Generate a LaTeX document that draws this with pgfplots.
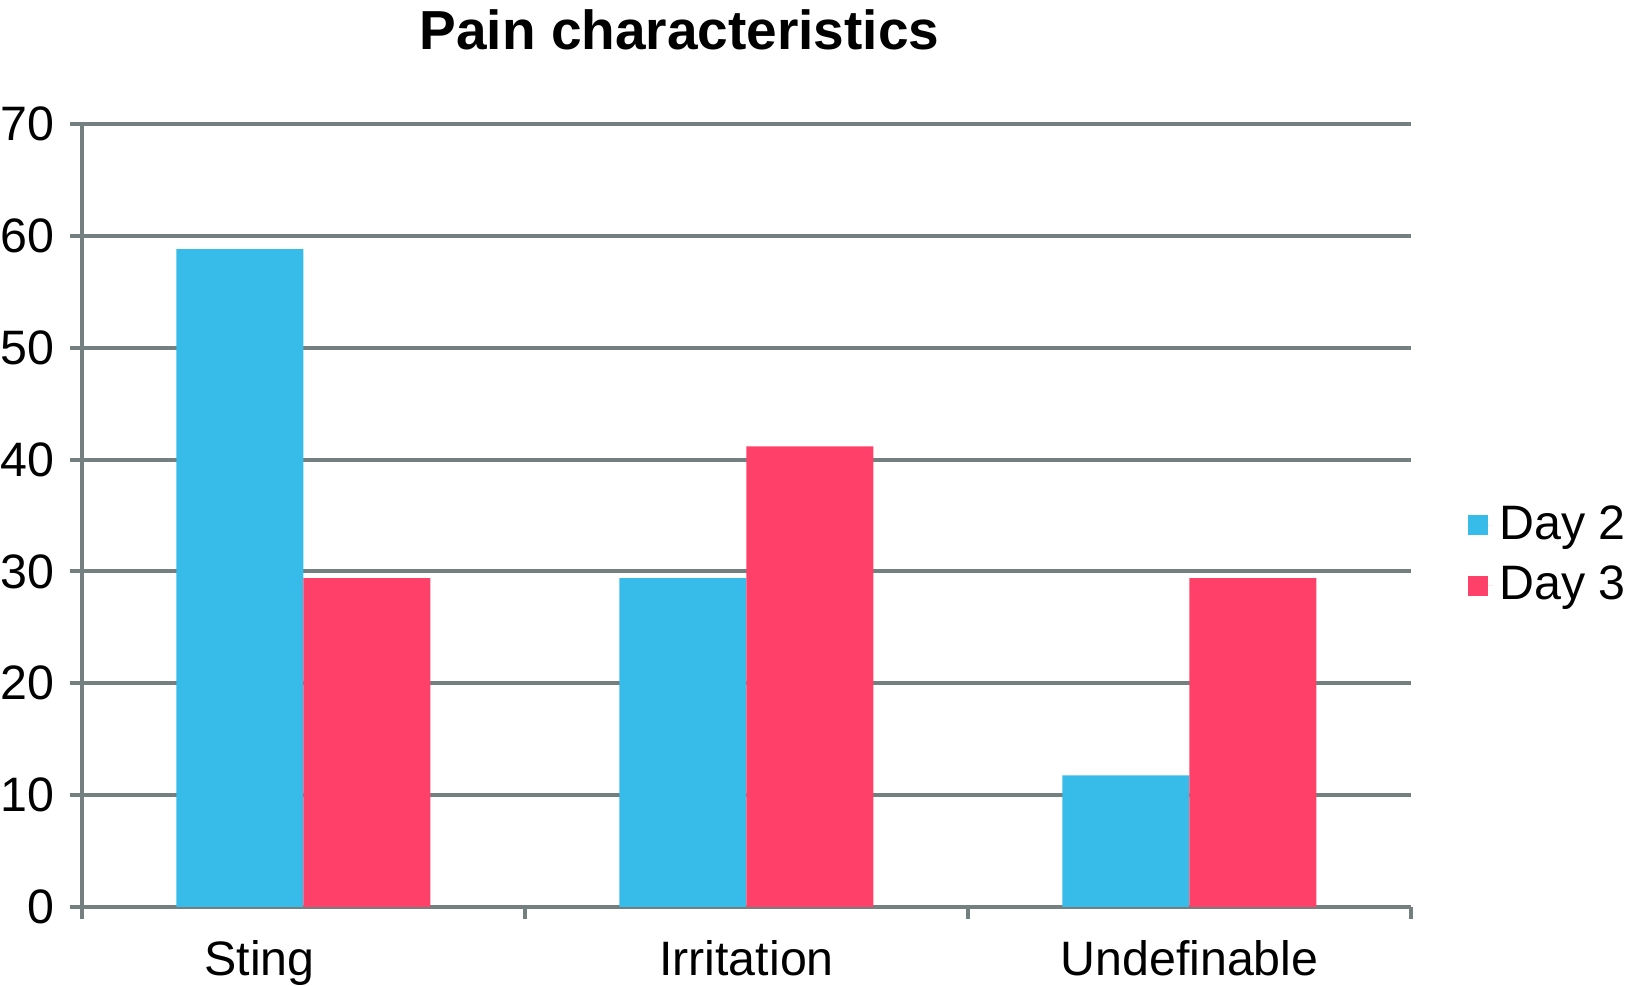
\documentclass[border=0pt]{standalone}
\usepackage{fontspec}
\setmainfont{Liberation Sans}
\usepackage{pgfplots}
\pgfplotsset{compat=1.18}
\definecolor{gridgray}{RGB}{116,128,128}
\definecolor{dayblue}{RGB}{55,187,232}
\definecolor{dayred}{RGB}{255,64,105}
\begin{document}
\begin{tikzpicture}[x=1pt,y=1pt]
\path[use as bounding box] (0,0) rectangle (493.8pt,295.8pt);
\begin{axis}[
  at={(24.6pt,23.7pt)}, anchor=south west,
  scale only axis, width=398.7pt, height=234.9pt,
  xmin=-0.5, xmax=2.5, ymin=0, ymax=70,
  axis lines=left, axis line style={-, gridgray, line width=1pt},
  ytick={0,10,...,70},
  ymajorgrids, major grid style={gridgray, line width=1.2pt},
  tick align=outside, tick style={gridgray, line width=1.2pt},
  major tick length=3.6pt,
  xtick={-0.5,0.5,1.5,2.5}, xticklabels={},
  extra x ticks={0,1,2},
  extra x tick labels={\hspace*{-26.4pt}Sting,Irritation,Undefinable},
  extra x tick style={major tick length=0pt, grid=none, xticklabel style={yshift=-6.6pt}},
  ticklabel style={font=\fontsize{14.5}{17}\selectfont},
  yticklabel style={xshift=-1.2pt},
  /pgf/number format/assume math mode=true,
  ybar, bar width=38.1pt,
  title={\bfseries Pain characteristics},
  title style={at={(0.4496,1)}, anchor=base, yshift=16.2pt, font=\fontsize{16.5}{19}\selectfont},
  legend style={draw=none, fill=none, at={(1.0346,0.449)}, anchor=west,
    font=\fontsize{14.5}{17}\selectfont, row sep=2.5pt},
  legend cell align=left,
  legend image code/.code={\fill[#1] (0pt,-3pt) rectangle (6pt,3pt); \path (0pt,0pt) -- (7.6pt,0pt);},
]
\addplot[fill=dayblue, draw=none, bar shift=-19.05pt] coordinates {(0,58.82) (1,29.41) (2,11.76)};
\addplot[fill=dayred, draw=none, bar shift=19.05pt] coordinates {(0,29.41) (1,41.18) (2,29.41)};
\legend{Day 2, Day 3}
\end{axis}
\end{tikzpicture}
\end{document}
